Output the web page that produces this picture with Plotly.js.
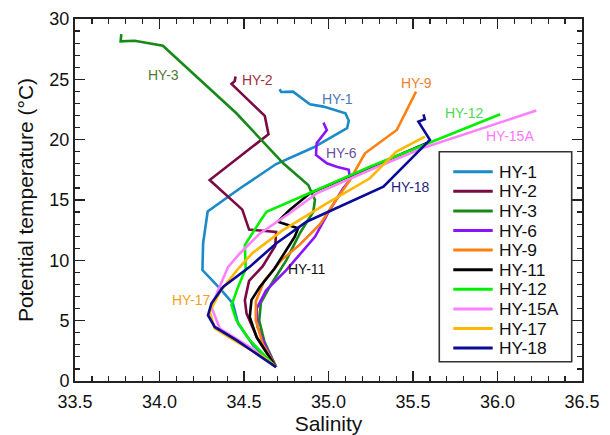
<!DOCTYPE html>
<html><head><meta charset="utf-8">
<script src="https://cdn.plot.ly/plotly-3.0.1.min.js"></script>
<style>html,body{margin:0;padding:0;background:#fff;}#chart{width:610px;height:435px;}</style>
</head><body><div id="chart"></div>
<script>
// ---- data ----
const stations = ['HY-1','HY-2','HY-3','HY-6','HY-9','HY-11','HY-12','HY-15A','HY-17','HY-18'];
const lineColors = ['#1a8ac8','#7a0a44','#168a16','#8a14ff','#ff8010','#000000','#00f000','#ff80ff','#ffb800','#0a0a96'];
const labelColors = ['#4a7ab8','#a03044','#4f7a30','#6a50a0','#f08030','#111111','#50d850','#ff78ff','#f5a020','#1e1e7a'];

const salHY1  = [34.71,34.72,34.79,34.89,34.97,35.10,35.12,35.11,34.91,34.69,34.475,34.285,34.258,34.254,34.357,34.435,34.465,34.554,34.69];
const tempHY1 = [24.18,23.95,23.98,22.94,22.74,22.19,21.58,20.95,19.35,17.98,15.95,14.05,11.4,9.19,7.67,6.42,4.76,2.96,1.15];
const salHY2  = [34.45,34.445,34.426,34.623,34.645,34.297,34.49,34.53,34.69,34.685,34.61,34.53,34.505,34.515,34.58,34.69];
const tempHY2 = [25.23,24.85,24.62,21.97,20.45,16.66,14.2,12.55,12.35,11.2,9.5,8.3,6.7,5.6,3.5,1.15];
const salHY3  = [33.774,33.77,33.853,34.02,34.455,34.732,34.88,34.92,34.91,34.83,34.75,34.66,34.60,34.59,34.62,34.69];
const tempHY3 = [28.75,28.15,28.2,27.78,22.19,18.04,16.24,15.0,14.03,12.23,10.0,8.0,6.5,5.0,3.3,1.15];
const salHY6  = [34.97,34.99,34.93,34.926,34.99,35.048,35.12,35.127,35.087,35.0,34.92,34.75,34.63,34.575,34.58,34.63,34.69];
const tempHY6 = [21.41,20.8,19.7,18.73,18.04,17.76,17.5,16.66,15.97,14.0,11.95,9.19,7.5,6.0,4.5,2.8,1.15];
const salHY9  = [35.518,35.404,35.216,35.127,35.03,34.95,34.83,34.72,34.62,34.57,34.57,34.61,34.69];
const tempHY9 = [23.98,20.8,18.87,16.66,14.7,13.0,11.3,10.0,8.3,6.6,5.0,3.1,1.15];
const salHY11  = [35.58,34.89,34.77,34.70,34.76,34.82,34.80,34.68,34.594,34.544,34.534,34.574,34.69];
const tempHY11 = [19.7,15.55,14.17,13.2,12.92,12.65,11.95,9.3,7.8,6.7,5.31,3.65,1.15];
const salHY12  = [36.016,35.245,34.93,34.633,34.60,34.505,34.51,34.465,34.426,34.455,34.534,34.69];
const tempHY12 = [22.1,17.75,15.83,14.03,13.34,11.26,9.3,7.8,6.28,5.04,3.38,1.15];
const salHY15A  = [36.23,35.58,35.245,34.93,34.77,34.594,34.475,34.406,34.347,34.307,34.357,34.534,34.69];
const tempHY15A = [22.41,19.42,17.49,15.55,13.9,12.23,10.57,9.46,7.53,6.14,4.35,2.82,1.15];
const salHY17  = [35.57,35.40,35.245,34.99,34.73,34.55,34.465,34.357,34.297,34.327,34.45,34.613,34.69];
const tempHY17 = [20.25,19.0,16.8,14.72,12.5,10.6,9.3,7.39,5.73,4.35,3.3,2.0,1.15];
const salHY18  = [35.562,35.57,35.532,35.60,35.325,34.87,34.69,34.534,34.376,34.307,34.287,34.327,34.455,34.69];
const tempHY18 = [22.1,21.69,21.5,19.98,16.1,13.2,11.4,9.46,7.8,6.42,5.45,4.48,3.38,1.15];

// in-plot station labels (data coordinates)
const labelSal  = [35.054,34.582,34.023,35.074,35.52,34.87,35.807,36.074,34.189,35.487];
const labelTemp = [23.35,24.95,25.37,18.87,24.73,9.27,22.24,20.31,6.70,16.1];

const xTickVals = [33.5,34.0,34.5,35.0,35.5,36.0,36.5];
const yTickVals = [0,5,10,15,20,25,30];

// ---- build ----
const salAll  = [salHY1,salHY2,salHY3,salHY6,salHY9,salHY11,salHY12,salHY15A,salHY17,salHY18];
const tempAll = [tempHY1,tempHY2,tempHY3,tempHY6,tempHY9,tempHY11,tempHY12,tempHY15A,tempHY17,tempHY18];
const FONT = 'Liberation Sans, Arial, Helvetica, sans-serif';

const traces = stations.map((s,i)=>({
  x: salAll[i], y: tempAll[i], name: s, type:'scatter', mode:'lines',
  line:{color: lineColors[i], width:2.6}, showlegend:false, hoverinfo:'skip'
}));

const W=610,H=435,M={l:75,r:28,t:19,b:54};
const plotH = H-M.t-M.b;
const toPy = py => (H-M.b-py)/plotH;   // pixel row -> paper y

const annotations = stations.map((s,i)=>({
  x: labelSal[i], y: labelTemp[i], xref:'x', yref:'y', text:s, showarrow:false,
  xanchor:'center', yanchor:'middle', font:{family:FONT,size:14,color:labelColors[i]}
}));
// legend box (shapes + text annotations)
const ROW0 = 171.7, ROWSTEP = 19.6;
const shapes = [{type:'rect',xref:'paper',yref:'paper',x0:0.7185,x1:0.9797,y0:toPy(361.7),y1:toPy(151.7),
  line:{color:'#333',width:1.6},fillcolor:'#ffffff',layer:'above'}];
stations.forEach((s,i)=>{
  const yy = toPy(ROW0 + i*ROWSTEP);
  shapes.push({type:'line',xref:'paper',yref:'paper',x0:0.7461,x1:0.8239,y0:yy,y1:yy,
    line:{color:lineColors[i],width:3},layer:'above'});
  annotations.push({xref:'paper',yref:'paper',x:0.8349,y:yy,xanchor:'left',yanchor:'middle',
    text:s,showarrow:false,borderpad:0,font:{family:FONT,size:17.4,color:'#111'}});
});

const axisCommon = {
  ticks:'inside', ticklen:10, tickwidth:1.4, tickcolor:'#222',
  showline:true, linewidth:2, linecolor:'#222', mirror:'allticks',
  showgrid:false, zeroline:false, tickfont:{family:FONT,size:18,color:'#111'}
};
const layout = {
  width:W, height:H, margin:M, paper_bgcolor:'#fff', plot_bgcolor:'#fff',
  font:{family:FONT,color:'#111'},
  xaxis: Object.assign({}, axisCommon, {
    range:[33.5,36.5], tickvals:xTickVals, ticktext:xTickVals.map(v=>v.toFixed(1)),
    ticklabelstandoff:3,
    minor:{dtick:0.1, tick0:33.5, ticks:'inside', ticklen:5, tickwidth:1.2, tickcolor:'#222', showgrid:false},
    title:{text:'Salinity', font:{family:FONT,size:21,color:'#111'}, standoff:8}
  }),
  yaxis: Object.assign({}, axisCommon, {
    range:[0,30], tickvals:yTickVals, ticktext:yTickVals.map(String),
    minor:{dtick:1, tick0:0, ticks:'inside', ticklen:5, tickwidth:1.2, tickcolor:'#222', showgrid:false},
    title:{text:'Potential temperature (°C)', font:{family:FONT,size:21,color:'#111'}, standoff:10}
  }),
  shapes, annotations
};
Plotly.newPlot('chart', traces, layout, {staticPlot:true, displayModeBar:false});
</script></body></html>
